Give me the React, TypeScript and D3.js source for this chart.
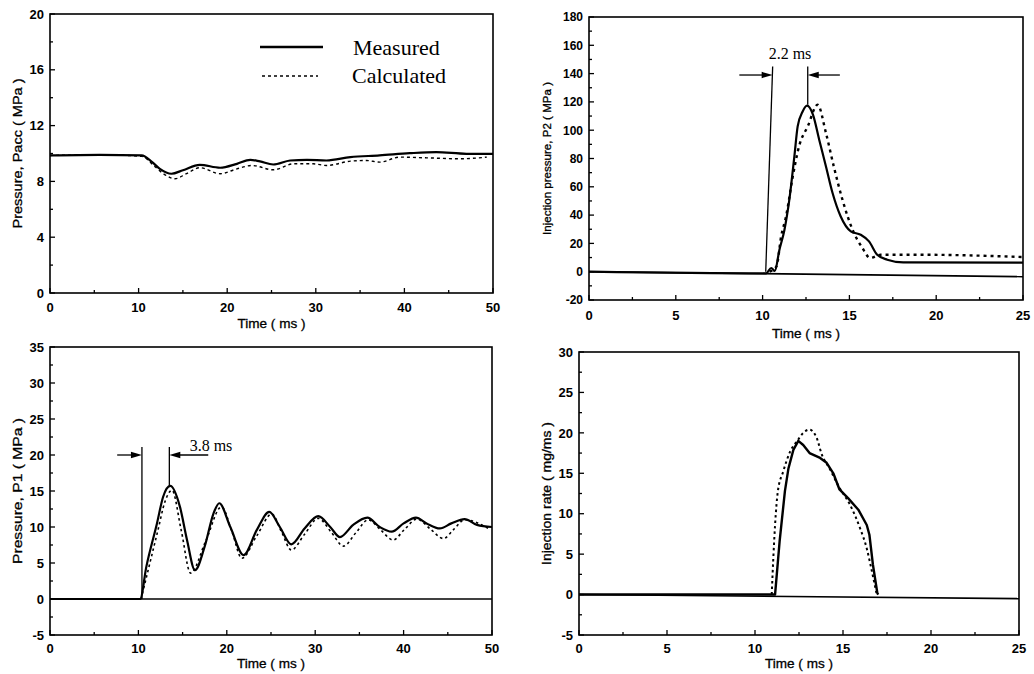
import React from "react";
import * as d3 from "d3";

const SANS = "'Liberation Sans', Arial, Helvetica, sans-serif";
const SERIF = "'Liberation Serif', 'Times New Roman', serif";

// ---------- Panel A: accumulator pressure Pacc (MPa) vs time (ms) ----------
const paccMeasT = [0, 5.6, 10.35, 11.5, 12.4, 13.7, 15.0, 16.9, 19.2, 21.1, 22.6, 23.7, 25.2, 27.1, 29.0, 31.2, 33.9, 37.2, 40.6, 43.6, 47.0, 50];
const paccMeasV = [9.86, 9.9, 9.86, 9.4, 8.9, 8.55, 8.8, 9.19, 8.98, 9.26, 9.55, 9.43, 9.21, 9.5, 9.55, 9.5, 9.74, 9.86, 10.02, 10.1, 9.98, 9.98];
const paccCalcT = [0, 5.6, 10.35, 11.7, 12.8, 14.1, 15.4, 16.9, 19.2, 21.1, 22.8, 25.2, 27.5, 29.7, 31.2, 33.9, 35.7, 37.2, 39.5, 42.5, 46.3, 49.3];
const paccCalcV = [9.86, 9.9, 9.8, 9.14, 8.55, 8.19, 8.55, 8.98, 8.55, 8.9, 9.14, 8.83, 9.26, 9.26, 9.14, 9.45, 9.5, 9.38, 9.74, 9.69, 9.62, 9.74];

// ---------- Panel B: injection pressure P2 (MPa) ----------
const p2MeasT = [0, 10.2, 10.5, 10.7, 10.97, 11.26, 11.54, 11.83, 12.02, 12.3, 12.56, 12.9, 13.26, 13.65, 14.03, 14.5, 15.08, 15.65, 16.13, 16.6, 17.18, 18.1, 25];
const p2MeasV = [0, -1.2, 2.6, 0.5, 15.5, 29.7, 50.9, 81.5, 102.7, 113, 117.3, 111, 93.3, 74.4, 55.6, 39, 28.5, 26.1, 21.4, 12, 8.5, 6.6, 6.4];
const p2CalcT = [10.4, 10.8, 11.07, 11.35, 11.74, 12.1, 12.6, 13.17, 13.65, 14.1, 14.6, 15.18, 15.75, 16.2, 16.8, 18.9, 25];
const p2CalcV = [0, 3.8, 25, 39, 67.4, 88.6, 102.7, 118, 98, 74.4, 50.9, 29.7, 16.7, 9.7, 12, 12, 10.4];
const p2BaseT = [0, 25];
const p2BaseV = [0, -3.5];

// ---------- Panel C: pressure P1 (MPa) ----------
const p1MeasT = [0, 10.2, 10.9, 12.1, 12.8, 13.6, 14.7, 15.5, 16.4, 17.5, 18.5, 19.15, 20.4, 21.9, 23.4, 24.8, 26.0, 27.3, 28.8, 30.35, 31.7, 32.8, 34.3, 35.9, 37.3, 38.65, 40.0, 41.4, 42.6, 44.1, 45.4, 46.9, 48.3, 50];
const p1MeasV = [0, 0, 4.5, 10.5, 14.2, 15.7, 12.8, 8.2, 4.0, 7.3, 11.9, 13.3, 10.0, 6.1, 9.6, 12.1, 10.0, 7.6, 9.8, 11.5, 10.0, 8.6, 10.3, 11.3, 10.0, 9.35, 10.5, 11.3, 10.5, 9.8, 10.5, 11.1, 10.3, 10.0];
const p1CalcT = [10.3, 11.0, 12.2, 13.0, 13.8, 14.85, 15.9, 17.6, 19.4, 20.6, 21.7, 23.4, 25.1, 26.2, 27.3, 28.8, 30.35, 31.8, 33.2, 34.6, 36.0, 37.4, 38.8, 40.1, 41.5, 43.0, 44.5, 45.7, 46.9, 49.6];
const p1CalcV = [0, 3.5, 9.5, 13.5, 15.1, 9.5, 3.6, 8.0, 12.8, 9.3, 5.65, 8.8, 11.8, 9.3, 6.8, 9.0, 11.2, 9.3, 7.35, 9.2, 11.0, 9.6, 8.2, 9.65, 11.1, 9.75, 8.4, 9.7, 11.0, 9.8];
const p1BaseT = [0, 50];
const p1BaseV = [0, 0];

// ---------- Panel D: injection rate (mg/ms) ----------
const rateMeasT = [0, 11.14, 11.4, 11.7, 11.9, 12.18, 12.46, 12.74, 13.1, 13.7, 14.07, 14.45, 14.8, 15.3, 15.87, 16.35, 16.5, 16.7, 16.95, 17.0];
const rateMeasV = [0, 0, 6.6, 12.8, 15.6, 17.9, 19.0, 18.5, 17.5, 16.9, 16.3, 15.0, 13.0, 11.9, 10.5, 8.6, 7.4, 3.7, 0.2, 0];
const rateCalcT = [10.95, 11.04, 11.14, 11.3, 11.6, 12.0, 12.4, 12.74, 13.1, 13.5, 13.8, 14.26, 14.8, 15.4, 15.97, 16.35, 16.6, 16.9];
const rateCalcV = [0, 4.5, 8.6, 12.8, 15.2, 17.7, 19, 20, 20.4, 19.4, 17.3, 15.5, 13.2, 11.1, 8.2, 5.7, 3.3, 0.2];
const rateBaseT = [0, 25];
const rateBaseV = [0, -0.5];

// ---------- Tick values ----------
const ticksA_x = [0, 10, 20, 30, 40, 50];
const ticksA_xMinor = [5, 15, 25, 35, 45];
const ticksA_y = [0, 4, 8, 12, 16, 20];
const ticksA_yMinor = [2, 6, 10, 14, 18];
const ticksB_x = [0, 5, 10, 15, 20, 25];
const ticksB_xMinor = [2.5, 7.5, 12.5, 17.5, 22.5];
const ticksB_y = [-20, 0, 20, 40, 60, 80, 100, 120, 140, 160, 180];
const ticksB_yMinor = [-10, 10, 30, 50, 70, 90, 110, 130, 150, 170];
const ticksC_x = [0, 10, 20, 30, 40, 50];
const ticksC_xMinor = [5, 15, 25, 35, 45];
const ticksC_y = [-5, 0, 5, 10, 15, 20, 25, 30, 35];
const ticksC_yMinor = [-2.5, 2.5, 7.5, 12.5, 17.5, 22.5, 27.5, 32.5];
const ticksD_x = [0, 5, 10, 15, 20, 25];
const ticksD_xMinor = [2.5, 7.5, 12.5, 17.5, 22.5];
const ticksD_y = [-5, 0, 5, 10, 15, 20, 25, 30];
const ticksD_yMinor = [-2.5, 2.5, 7.5, 12.5, 17.5, 22.5, 27.5];

// annotation values (ms / y-units)
const annC = { lineY: 20, left: 7.6, right: 17.9, t1: 10.4, t2: 13.5, top: 21.1, peak: 15.7, textX: 15.8, textY: 20.5, label: "3.8 ms" };
const annB = { lineY: 139, left: 8.66, right: 14.45, t1top: 10.58, t1bot: 10.18, t2: 12.6, top: 145, peak: 118, textX: 10.35, textY: 150, label: "2.2 ms" };

const legendLabels = ["Measured", "Calculated"];

type Curve = d3.CurveFactory;
interface Series {
  x: number[];
  y: number[];
  width: number;
  dash?: string;
  curve?: Curve;
}

interface PanelProps {
  l: number; t: number; r: number; b: number;
  xDomain: [number, number];
  yDomain: [number, number];
  xTicks: number[]; xMinor: number[];
  yTicks: number[]; yMinor: number[];
  yTitle: string; yTitleX: number; yTitleSize: number; yTitleLen: number;
  yTickSize: number;
  xLabelDy?: number; xTitleDy?: number;
  series: Series[];
  extra?: (x: d3.ScaleLinear<number, number>, y: d3.ScaleLinear<number, number>) => React.ReactNode;
}

function Panel(p: PanelProps) {
  const x = d3.scaleLinear().domain(p.xDomain).range([p.l, p.r]);
  const y = d3.scaleLinear().domain(p.yDomain).range([p.b, p.t]);
  const xLabelDy = p.xLabelDy ?? 18;
  const xTitleDy = p.xTitleDy ?? 34;
  return (
    <g>
      {p.series.map((s, i) => {
        const pts: [number, number][] = s.x.map((v, k) => [v, s.y[k]]);
        const gen = d3.line<[number, number]>()
          .x((d) => x(d[0]))
          .y((d) => y(d[1]))
          .curve(s.curve ?? d3.curveMonotoneX);
        return (
          <path key={i} d={gen(pts) ?? ""} fill="none" stroke="#000" strokeWidth={s.width}
            strokeDasharray={s.dash} strokeLinejoin="round" />
        );
      })}
      {p.extra && p.extra(x, y)}
      <rect x={p.l} y={p.t} width={p.r - p.l} height={p.b - p.t} fill="none" stroke="#000" strokeWidth={1.6} />
      {p.xTicks.map((v) => (
        <g key={"xt" + v}>
          <line x1={x(v)} x2={x(v)} y1={p.b} y2={p.b - 5} stroke="#000" strokeWidth={1.3} />
          <text x={x(v)} y={p.b + xLabelDy} textAnchor="middle" fontFamily={SANS} fontWeight="bold" fontSize={13}>{v}</text>
        </g>
      ))}
      {p.xMinor.map((v) => (
        <line key={"xm" + v} x1={x(v)} x2={x(v)} y1={p.b} y2={p.b - 3} stroke="#000" strokeWidth={1.3} />
      ))}
      {p.yTicks.map((v) => (
        <g key={"yt" + v}>
          <line x1={p.l} x2={p.l + 5} y1={y(v)} y2={y(v)} stroke="#000" strokeWidth={1.3} />
          <text x={p.l - 6} y={y(v)} dy="0.36em" textAnchor="end" fontFamily={SANS} fontWeight="bold" fontSize={p.yTickSize}>{v}</text>
        </g>
      ))}
      {p.yMinor.map((v) => (
        <line key={"ym" + v} x1={p.l} x2={p.l + 3} y1={y(v)} y2={y(v)} stroke="#000" strokeWidth={1.3} />
      ))}
      <text x={(p.l + p.r) / 2} y={p.b + xTitleDy} textAnchor="middle" fontFamily={SANS} fontSize={13}
        stroke="#000" strokeWidth={0.3} textLength={68} lengthAdjust="spacingAndGlyphs">Time ( ms )</text>
      <text transform={`translate(${p.yTitleX},${(p.t + p.b) / 2}) rotate(-90)`} textAnchor="middle" dy="0.35em"
        fontFamily={SANS} fontSize={p.yTitleSize} stroke="#000" strokeWidth={0.3}
        textLength={p.yTitleLen} lengthAdjust="spacingAndGlyphs">{p.yTitle}</text>
    </g>
  );
}

function Arrow({ x1, y1, x2, y2 }: { x1: number; y1: number; x2: number; y2: number }) {
  // line from (x1,y1) ending with a filled arrowhead at (x2,y2)
  const dir = Math.sign(x2 - x1);
  const hl = 11, hw = 3.2;
  return (
    <g>
      <line x1={x1} y1={y1} x2={x2 - dir * hl * 0.5} y2={y2} stroke="#000" strokeWidth={1.3} />
      <path d={`M${x2},${y2} L${x2 - dir * hl},${y2 - hw} L${x2 - dir * hl},${y2 + hw} Z`} fill="#000" />
    </g>
  );
}

export default function App() {
  return (
    <svg width={1034} height={674} style={{ position: "absolute", left: 0, top: 0, background: "#fff" }}>
      <rect width={1034} height={674} fill="#fff" />
      {/* Panel A */}
      <Panel l={50} t={14} r={493} b={293}
        xDomain={[0, 50]} yDomain={[0, 20]}
        xTicks={ticksA_x} xMinor={ticksA_xMinor} yTicks={ticksA_y} yMinor={ticksA_yMinor}
        yTitle="Pressure, Pacc ( MPa )" yTitleX={17} yTitleSize={13} yTitleLen={150} yTickSize={13}
        xLabelDy={19} xTitleDy={35}
        series={[
          { x: paccCalcT, y: paccCalcV, width: 1.4, dash: "3,3" },
          { x: paccMeasT, y: paccMeasV, width: 2.2 },
        ]}
        extra={() => (
          <g>
            <line x1={260} x2={323} y1={47} y2={47} stroke="#000" strokeWidth={2.4} />
            <text x={353} y={55} fontFamily={SERIF} fontSize={22}>{legendLabels[0]}</text>
            <line x1={262} x2={318} y1={76} y2={76} stroke="#000" strokeWidth={1.4} strokeDasharray="3,3" />
            <text x={352} y={83} fontFamily={SERIF} fontSize={22}>{legendLabels[1]}</text>
          </g>
        )}
      />
      {/* Panel B */}
      <Panel l={589} t={17} r={1023} b={300}
        xDomain={[0, 25]} yDomain={[-20, 180]}
        xTicks={ticksB_x} xMinor={ticksB_xMinor} yTicks={ticksB_y} yMinor={ticksB_yMinor}
        yTitle="Injection pressure, P2 ( MPa )" yTitleX={547} yTitleSize={11.5} yTitleLen={153} yTickSize={12}
        xLabelDy={20} xTitleDy={38}
        series={[
          { x: p2BaseT, y: p2BaseV, width: 1.6, curve: d3.curveLinear },
          { x: p2CalcT, y: p2CalcV, width: 2.4, dash: "3,4" },
          { x: p2MeasT, y: p2MeasV, width: 2.2 },
        ]}
        extra={(x, y) => (
          <g>
            <line x1={x(annB.t1top)} y1={y(annB.top)} x2={x(annB.t1bot)} y2={y(0)} stroke="#000" strokeWidth={1.3} />
            <line x1={x(annB.t2)} y1={y(annB.top)} x2={x(annB.t2)} y2={y(annB.peak)} stroke="#000" strokeWidth={1.3} />
            <Arrow x1={x(annB.left)} y1={y(annB.lineY)} x2={x(annB.t1top)} y2={y(annB.lineY)} />
            <Arrow x1={x(annB.right)} y1={y(annB.lineY)} x2={x(annB.t2)} y2={y(annB.lineY)} />
            <text x={x(annB.textX)} y={y(annB.textY)} fontFamily={SERIF} fontSize={16}>{annB.label}</text>
          </g>
        )}
      />
      {/* Panel C */}
      <Panel l={50} t={347} r={492} b={635}
        xDomain={[0, 50]} yDomain={[-5, 35]}
        xTicks={ticksC_x} xMinor={ticksC_xMinor} yTicks={ticksC_y} yMinor={ticksC_yMinor}
        yTitle="Pressure, P1 ( MPa )" yTitleX={17} yTitleSize={13.5} yTitleLen={146} yTickSize={13}
        xLabelDy={18} xTitleDy={33}
        series={[
          { x: p1BaseT, y: p1BaseV, width: 1.6, curve: d3.curveLinear },
          { x: p1CalcT, y: p1CalcV, width: 1.6, dash: "2.5,3" },
          { x: p1MeasT, y: p1MeasV, width: 2.2 },
        ]}
        extra={(x, y) => (
          <g>
            <line x1={x(annC.t1)} y1={y(annC.top)} x2={x(annC.t1)} y2={y(0)} stroke="#000" strokeWidth={1.3} />
            <line x1={x(annC.t2)} y1={y(annC.top)} x2={x(annC.t2)} y2={y(annC.peak)} stroke="#000" strokeWidth={1.3} />
            <Arrow x1={x(annC.left)} y1={y(annC.lineY)} x2={x(annC.t1)} y2={y(annC.lineY)} />
            <Arrow x1={x(annC.right)} y1={y(annC.lineY)} x2={x(annC.t2)} y2={y(annC.lineY)} />
            <text x={x(annC.textX)} y={y(annC.textY)} fontFamily={SERIF} fontSize={16}>{annC.label}</text>
          </g>
        )}
      />
      {/* Panel D */}
      <Panel l={579} t={352} r={1019} b={635}
        xDomain={[0, 25]} yDomain={[-5, 30]}
        xTicks={ticksD_x} xMinor={ticksD_xMinor} yTicks={ticksD_y} yMinor={ticksD_yMinor}
        yTitle="Injection rate ( mg/ms )" yTitleX={547} yTitleSize={12} yTitleLen={143} yTickSize={13}
        xLabelDy={18} xTitleDy={33}
        series={[
          { x: rateBaseT, y: rateBaseV, width: 1.6, curve: d3.curveLinear },
          { x: rateCalcT, y: rateCalcV, width: 2, dash: "2.5,3" },
          { x: rateMeasT, y: rateMeasV, width: 2.4, curve: d3.curveLinear },
        ]}
      />
    </svg>
  );
}
